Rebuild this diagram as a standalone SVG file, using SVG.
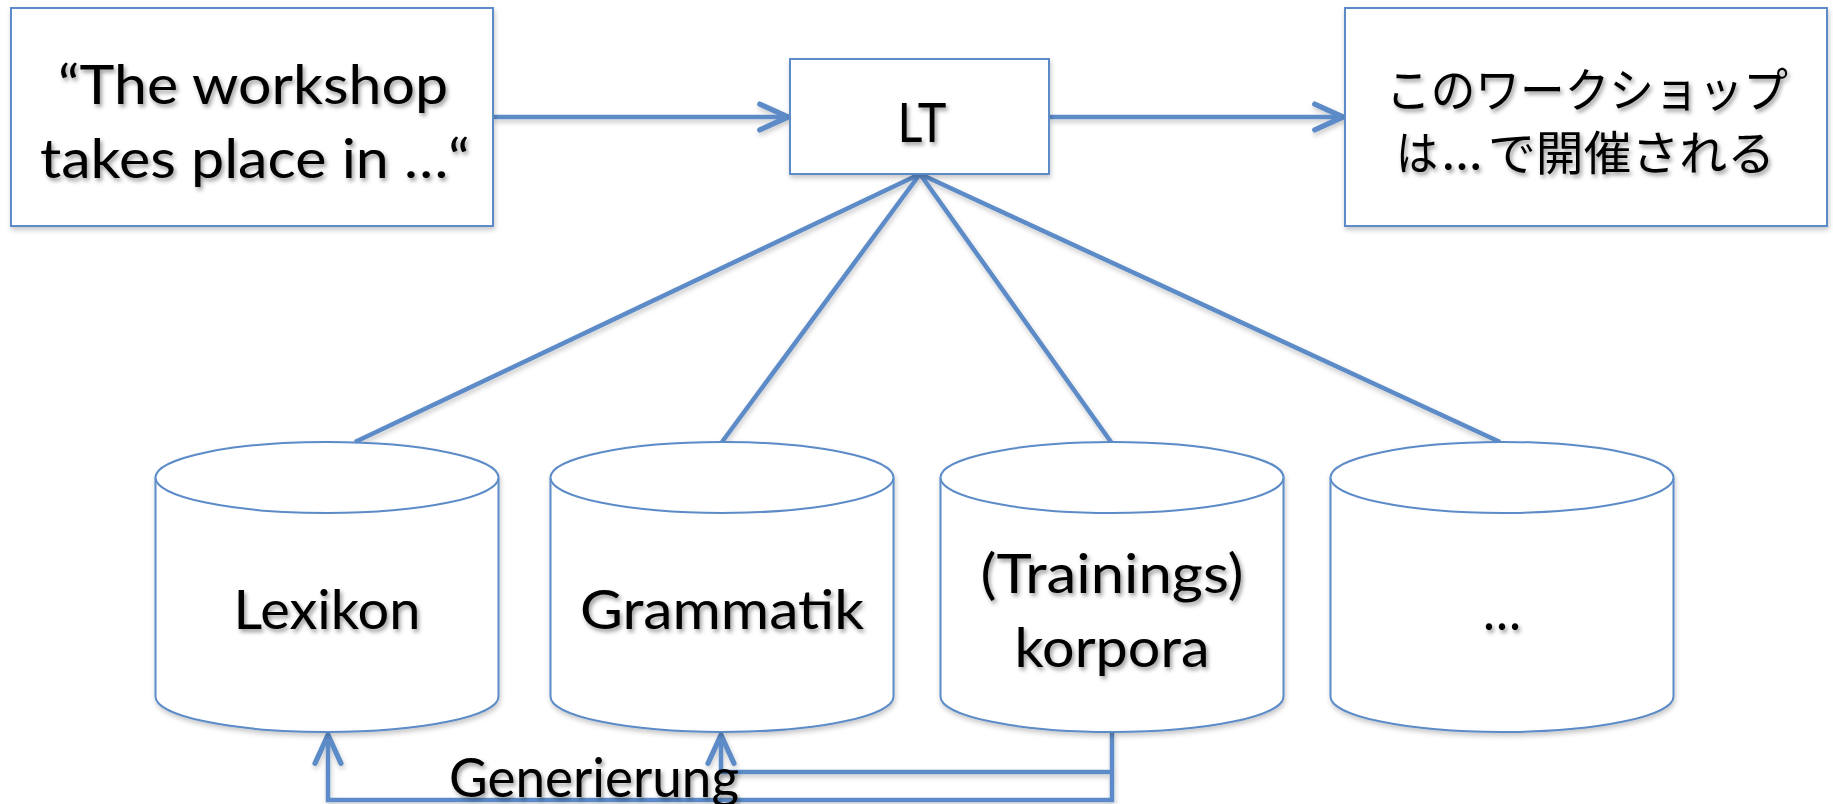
<svg xmlns="http://www.w3.org/2000/svg" width="1833" height="804" viewBox="0 0 1833 804">
<defs>
<style>
.box{fill:#ffffff;stroke:#5B8BC7;stroke-width:2}
.cyl{fill:#ffffff;stroke:#5B8BC7;stroke-width:2}
.con{fill:none;stroke:#5B8BC7;stroke-width:4.5;stroke-linejoin:miter}
.t{font-family:Lato,"Open Sans","Liberation Sans",sans-serif;font-size:54px;fill:#000000;text-anchor:middle}
.j{font-family:"Noto Sans CJK JP",sans-serif;font-size:47px;fill:#000000;text-anchor:middle}
.js{font-family:"Noto Sans CJK JP",sans-serif;font-size:47px;fill:#000000;text-anchor:start}
.ls{font-family:Lato,"Open Sans","Liberation Sans",sans-serif;font-size:54px;fill:#000000;text-anchor:start}
</style>
<filter id="ts" x="-10%" y="-30%" width="120%" height="160%">
<feDropShadow dx="2" dy="3" stdDeviation="2" flood-color="#000" flood-opacity="0.4"/>
</filter>
<filter id="ss" x="-5%" y="-5%" width="110%" height="115%">
<feDropShadow dx="1" dy="3" stdDeviation="2.5" flood-color="#000" flood-opacity="0.22"/>
</filter>
<marker id="ah" markerUnits="userSpaceOnUse" markerWidth="40" markerHeight="40" viewBox="-30 -15 34 30" refX="0" refY="0" orient="auto">
<path d="M-24,-11 L0,0 L-24,11" fill="none" stroke="#5B8BC7" stroke-width="4.5" stroke-linejoin="round" stroke-linecap="round"/>
</marker>
</defs>
<rect width="1833" height="804" fill="#ffffff"/>

<g id="connectors" filter="url(#ss)">
<path class="con" d="M493,117 L788,117" marker-end="url(#ah)"/>
<path class="con" d="M1049,117 L1343,117" marker-end="url(#ah)"/>
<path class="con" d="M920,174 L355,442"/>
<path class="con" d="M920,174 L722,442"/>
<path class="con" d="M920,174 L1111,442"/>
<path class="con" d="M920,174 L1500,442"/>
<path class="con" d="M1112,732 V800 H328 V735" marker-end="url(#ah)"/>
<path class="con" d="M1112,772 H721 V735" marker-end="url(#ah)"/>
</g>

<g id="node-source">
<rect class="box" x="11" y="8" width="482" height="218" filter="url(#ss)"/>
<text class="t" filter="url(#ts)"><tspan x="253" y="104" textLength="390" lengthAdjust="spacingAndGlyphs">“The workshop</tspan><tspan x="255" y="178" textLength="430" lengthAdjust="spacingAndGlyphs">takes place in …“</tspan></text>
</g>

<g id="node-lt">
<rect class="box" x="790" y="59" width="259" height="115" filter="url(#ss)"/>
<text class="t" x="922" y="142" filter="url(#ts)" textLength="49" lengthAdjust="spacingAndGlyphs">LT</text>
</g>

<g id="node-target">
<rect class="box" x="1345" y="8" width="482" height="218" filter="url(#ss)"/>
<g filter="url(#ts)">
<text class="j" x="1587" y="107" textLength="402" lengthAdjust="spacingAndGlyphs">このワークショップ</text>
<text class="js" x="1396" y="170" textLength="42" lengthAdjust="spacingAndGlyphs">は</text>
<text class="ls" x="1442" y="170" textLength="40" lengthAdjust="spacingAndGlyphs">…</text>
<text class="js" x="1488" y="170" textLength="287" lengthAdjust="spacingAndGlyphs">で開催される</text>
</g>
</g>

<g id="node-lexikon">
<g filter="url(#ss)">
<path class="cyl" d="M155.5,477.5 A171.5,35.5 0 0 1 498.5,477.5 V696.5 A171.5,35.5 0 0 1 155.5,696.5 Z"/>
<path class="cyl" fill="none" d="M155.5,477.5 A171.5,35.5 0 0 0 498.5,477.5"/>
</g>
<text class="t" x="327" y="629" filter="url(#ts)" textLength="187" lengthAdjust="spacingAndGlyphs">Lexikon</text>
</g>

<g id="node-grammatik">
<g filter="url(#ss)">
<path class="cyl" d="M550.5,477.5 A171.5,35.5 0 0 1 893.5,477.5 V696.5 A171.5,35.5 0 0 1 550.5,696.5 Z"/>
<path class="cyl" fill="none" d="M550.5,477.5 A171.5,35.5 0 0 0 893.5,477.5"/>
</g>
<text class="t" x="722" y="629" filter="url(#ts)" textLength="284" lengthAdjust="spacingAndGlyphs">Grammatik</text>
</g>

<g id="node-korpora">
<g filter="url(#ss)">
<path class="cyl" d="M940.5,477.5 A171.5,35.5 0 0 1 1283.5,477.5 V696.5 A171.5,35.5 0 0 1 940.5,696.5 Z"/>
<path class="cyl" fill="none" d="M940.5,477.5 A171.5,35.5 0 0 0 1283.5,477.5"/>
</g>
<text class="t" filter="url(#ts)"><tspan x="1112" y="593" textLength="263" lengthAdjust="spacingAndGlyphs">(Trainings)</tspan><tspan x="1112" y="667" textLength="195" lengthAdjust="spacingAndGlyphs">korpora</tspan></text>
</g>

<g id="node-more">
<g filter="url(#ss)">
<path class="cyl" d="M1330.5,477.5 A171.5,35.5 0 0 1 1673.5,477.5 V696.5 A171.5,35.5 0 0 1 1330.5,696.5 Z"/>
<path class="cyl" fill="none" d="M1330.5,477.5 A171.5,35.5 0 0 0 1673.5,477.5"/>
</g>
<text class="t" x="1502" y="630" filter="url(#ts)" textLength="38" lengthAdjust="spacingAndGlyphs">…</text>
</g>

<g id="label-generierung">
<text class="t" x="594" y="797" filter="url(#ts)" textLength="290" lengthAdjust="spacingAndGlyphs">Generierung</text>
</g>
</svg>
